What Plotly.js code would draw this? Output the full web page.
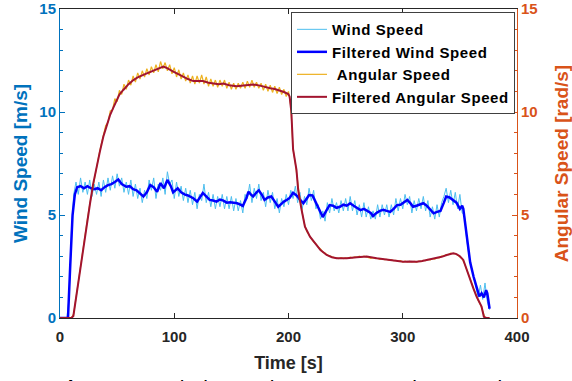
<!DOCTYPE html>
<html>
<head>
<meta charset="utf-8">
<script src="https://cdn.plot.ly/plotly-3.0.1.min.js"></script>
<style>html,body{margin:0;padding:0;background:#fff;overflow:hidden}#chart{width:572px;height:381px}
.legendtext{letter-spacing:0.6px}</style>
</head>
<body>
<div id="chart"></div>
<script>
// ---- data ----
const rawStart = 0;   // s
const rawStep = 2;    // s

// Wind speed (raw), m/s, sampled every 2 s from t = 0
const windRaw = [0,0,0,0,1.0,4.2,6.0,6.6,6.0,6.8,6.1,6.6,6.0,6.7,5.9,6.5,6.0,6.6,5.9,6.7,
6.1,6.8,6.2,6.9,6.3,7.0,6.4,6.8,6.1,6.6,6.0,6.7,5.9,6.5,5.8,6.3,5.6,6.2,5.8,6.7,
6.2,6.8,5.8,6.5,6.2,6.8,6.0,7.1,6.5,6.7,5.8,6.6,5.9,6.4,5.7,6.3,5.6,6.2,5.5,6.1,
5.3,6.0,5.7,6.5,5.6,6.1,5.4,6.0,5.3,5.9,5.4,6.0,5.3,5.9,5.3,5.9,5.2,5.8,5.2,5.7,
5.1,6.0,5.8,6.5,5.6,6.3,5.8,6.5,5.7,6.1,5.4,6.2,5.6,6.1,5.3,5.8,5.1,5.8,5.4,6.0,
5.5,6.2,5.8,6.4,5.6,6.1,5.3,5.9,5.5,6.3,5.7,6.2,5.3,5.5,4.8,5.2,4.7,5.6,5.1,5.8,
5.2,5.6,5.1,5.7,5.2,5.8,5.2,5.9,5.2,5.7,5.0,5.5,4.9,5.6,4.9,5.4,4.8,5.2,4.8,5.5,
4.9,5.5,5.0,5.5,4.9,5.5,5.0,5.8,5.2,5.8,5.3,6.0,5.5,5.9,5.1,5.7,5.2,5.8,5.3,5.9,
5.2,5.7,4.9,5.4,4.8,5.5,4.9,5.6,5.9,6.3,5.6,6.2,5.5,6.1,5.3,6.0,5.1,5.0,3.8,3.0,
2.5,2.0,1.6,1.0,1.6,0.9,1.7,0.8,0.4];

// Filtered wind speed
const windFiltT = [0,7,9,11,13,15,18,21,24,27,30,33,36,39,42,45,48,51,54,58,61,64,67,70,73,76,79,82,85,88,
91,94,97,99,103,106,109,112,114,117,120,123,125,128,131,134,137,140,143,146,149,152,155,158,160,163,165,167,169,172,
174,177,179,182,185,188,191,194,196,199,201,204,207,210,213,216,218,221,224,227,230,233,236,239,242,245,248,251,254,257,
260,263,266,269,272,274,277,280,283,286,289,292,295,298,301,304,307,309,312,315,318,321,324,327,330,333,336,338,341,344,
347,350,352,353,356,359,362,365,367,369,371,373,374,376];
const windFiltV = [0,0,2.6,5.0,6.0,6.35,6.4,6.3,6.4,6.3,6.25,6.3,6.2,6.35,6.45,6.5,6.6,6.72,6.5,6.37,6.4,6.25,6.2,6.05,5.9,6.1,6.45,6.35,6.13,6.55,
6.3,6.7,6.4,6.1,6.3,6.1,6.0,5.95,5.9,5.8,5.65,5.9,6.07,5.9,5.73,5.7,5.65,5.75,5.7,5.6,5.62,5.6,5.57,5.5,5.44,5.8,6.13,6.0,5.9,6.1,
6.2,5.95,5.73,5.85,5.9,5.65,5.4,5.55,5.65,5.75,5.83,6.08,5.95,5.75,5.57,5.8,5.97,5.95,5.6,5.2,4.9,5.2,5.48,5.45,5.35,5.4,5.5,5.45,5.57,5.45,
5.35,5.24,5.3,5.2,5.1,4.95,5.1,5.2,5.25,5.2,5.15,5.3,5.48,5.5,5.6,5.73,5.55,5.4,5.45,5.5,5.57,5.45,5.25,5.08,5.15,5.2,5.6,5.9,5.85,5.73,
5.6,5.3,5.45,5.3,3.9,2.7,2.0,1.5,1.05,1.2,1.0,1.35,1.2,0.45];

// Angular speed (raw), rad/s, sampled every 2 s from t = 0
const angRaw = [0,0,0,0,0,0,0.2,1.0,1.8,2.5,3.3,4.1,4.8,5.5,6.15,6.8,7.35,7.9,8.4,8.85,
9.35,9.5,10.05,10.1,10.65,10.5,11.05,10.85,11.35,11.1,11.55,11.3,11.75,11.45,11.9,11.6,12.0,11.7,12.1,11.8,
12.2,11.9,12.3,11.95,12.45,12.1,12.4,12.0,12.3,11.85,12.15,11.7,12.05,11.6,11.9,11.5,11.8,11.4,11.75,11.35,
11.75,11.4,11.8,11.35,11.7,11.25,11.6,11.25,11.55,11.2,11.55,11.25,11.55,11.15,11.45,11.1,11.4,11.1,11.4,11.15,
11.45,11.15,11.5,11.2,11.55,11.2,11.45,11.15,11.4,11.05,11.35,11.0,11.3,10.95,11.25,10.9,11.2,10.85,11.1,10.75,
11.0,10.3,8.2,7.5,6.5,5.75,5.1,4.55,4.2,4.0,3.85,3.7,3.6,3.45,3.35,3.2,3.15,3.05,3.0,2.97,
2.93,2.92,2.88,2.93,2.88,2.92,2.9,2.95,2.92,2.97,2.95,3.0,2.96,3.0,2.97,2.95,2.9,2.93,2.88,2.9,
2.85,2.88,2.83,2.85,2.8,2.83,2.78,2.8,2.75,2.78,2.72,2.76,2.72,2.75,2.72,2.75,2.71,2.76,2.74,2.8,
2.78,2.84,2.82,2.88,2.86,2.93,2.92,3.0,3.0,3.08,3.08,3.15,3.12,3.14,3.05,3.0,2.88,2.65,2.35,2.0,
1.7,1.4,1.1,0.85,0.65,0.3,0.02,0,0];

// Filtered angular speed
const angFiltT = [0,10,11.7,14.6,17.5,20.4,23,26.3,29,32,35,37.9,41,43.8,47,49.6,52,55.4,60,64.2,68,72.9,77,81.7,86,90.4,93,96,99.2,104,
108,112,116.7,121,125,130,134,139,143,148,154.6,160,165,169,175,180,184,188,192.5,196,199.8,201,202.5,204,207,208.5,211.5,214.4,218.8,224.7,
228,233.4,238,242.2,251,259.7,268.4,277.2,283,288.8,295,300.5,306,312.2,317,321,325,329.7,334,338.5,342,344.2,347,350,353,356,358.9,361.8,364.7,367.6,
369,370,371,373,376];
const angFiltV = [0,0,0.1,1.2,2.33,3.46,4.5,5.57,6.5,7.34,8.1,8.8,9.4,9.85,10.25,10.58,10.85,11.07,11.35,11.55,11.68,11.8,11.9,12.0,12.1,12.2,12.15,12.05,11.96,11.83,
11.7,11.6,11.5,11.5,11.5,11.42,11.38,11.35,11.38,11.3,11.25,11.28,11.32,11.34,11.28,11.2,11.15,11.12,11.05,10.97,10.87,10.75,10.0,8.2,7.18,6.2,5.24,4.43,3.95,3.54,
3.3,3.06,2.95,2.9,2.9,2.95,2.98,2.9,2.85,2.82,2.78,2.73,2.74,2.73,2.77,2.82,2.85,2.9,2.97,3.06,3.12,3.14,3.1,3.0,2.82,2.33,1.84,1.44,1.03,0.71,
0.55,0.3,0.06,0,0];

const seriesNames = ['Wind Speed', 'Filtered Wind Speed', '\u00a0Angular Speed', 'Filtered Angular Speed'];
const xTicks = [0, 100, 200, 300, 400];
const yTicks = [0, 5, 10, 15];

// ---- build ----
const rawT = n => Array.from({length: n}, (_, i) => rawStart + i * rawStep);
const FONT = 'Liberation Sans, Arial, sans-serif';

const traces = [
  {x: rawT(windRaw.length), y: windRaw, name: seriesNames[0], type: 'scatter', mode: 'lines',
   line: {color: '#4DBEEE', width: 1}, yaxis: 'y'},
  {x: windFiltT, y: windFiltV, name: seriesNames[1], type: 'scatter', mode: 'lines',
   line: {color: '#0000FF', width: 2.5}, yaxis: 'y'},
  {x: rawT(angRaw.length), y: angRaw, name: seriesNames[2], type: 'scatter', mode: 'lines',
   line: {color: '#EDB120', width: 1.2}, yaxis: 'y2'},
  {x: angFiltT, y: angFiltV, name: seriesNames[3], type: 'scatter', mode: 'lines',
   line: {color: '#A2142F', width: 2}, yaxis: 'y2'}
];

const layout = {
  width: 572, height: 381,
  margin: {l: 60, r: 55, t: 9, b: 63, pad: 0},
  paper_bgcolor: '#ffffff', plot_bgcolor: '#ffffff',
  font: {family: FONT, size: 15, color: '#262626'},
  showlegend: true,
  legend: {
    x: 0.9956, xanchor: 'right', y: 0.99, yanchor: 'top',
    bgcolor: '#ffffff', bordercolor: '#404040', borderwidth: 1,
    font: {family: FONT, size: 15, color: '#000000', weight: 'bold'},
    tracegroupgap: 0
  },
  xaxis: {
    range: [0, 400], tickvals: xTicks, ticktext: xTicks.map(String),
    ticks: 'inside', ticklen: 5, tickcolor: '#262626', tickwidth: 1,
    showline: true, linecolor: '#262626', linewidth: 1, mirror: 'ticks',
    showgrid: false, zeroline: false, ticklabelstandoff: 5,
    tickfont: {family: FONT, size: 15, color: '#262626', weight: 'bold'},
    title: {text: 'Time [s]', font: {family: FONT, size: 18, color: '#262626', weight: 'bold'}, standoff: 12}
  },
  yaxis: {
    range: [0, 15], tickvals: yTicks, ticktext: yTicks.map(String),
    ticks: 'inside', ticklen: 5, tickcolor: '#0072BD',
    minor: {dtick: 1, ticks: 'inside', ticklen: 3, tickcolor: '#0072BD', showgrid: false},
    showline: true, linecolor: '#0072BD', linewidth: 1,
    showgrid: false, zeroline: false,
    tickfont: {family: FONT, size: 15, color: '#0072BD', weight: 'bold'},
    title: {text: 'Wind Speed [m/s]', font: {family: FONT, size: 19, color: '#0072BD', weight: 'bold'}, standoff: 6}
  },
  yaxis2: {
    range: [0, 15], tickvals: yTicks, ticktext: yTicks.map(String),
    overlaying: 'y', side: 'right',
    ticks: 'inside', ticklen: 5, tickcolor: '#D95319',
    minor: {dtick: 1, ticks: 'inside', ticklen: 3, tickcolor: '#D95319', showgrid: false},
    showline: true, linecolor: '#D95319', linewidth: 1,
    showgrid: false, zeroline: false,
    tickfont: {family: FONT, size: 15, color: '#D95319', weight: 'bold'},
    title: {text: 'Angular Speed [rad/s]', font: {family: FONT, size: 19, color: '#D95319', weight: 'bold'}, standoff: 18}
  },
  annotations: [{
    xref: 'paper', yref: 'paper', x: 0.478, y: -0.181, xanchor: 'center', yanchor: 'top',
    text: '<b>Figure 10.</b> Wind Speed vs Rotor Angular Speed', showarrow: false,
    font: {family: FONT, size: 21, color: '#000000'}
  }]
};

Plotly.newPlot('chart', traces, layout, {displayModeBar: false, staticPlot: true});
</script>
</body>
</html>
